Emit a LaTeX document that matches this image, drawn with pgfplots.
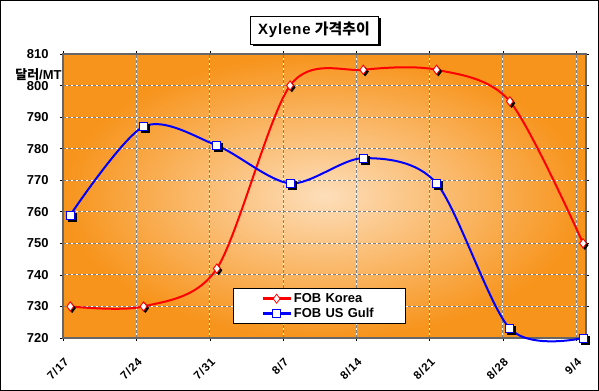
\documentclass[border=0pt]{standalone}
\usepackage{fontspec}
\setmainfont{Liberation Sans}
\newfontfamily\kr{Noto Sans CJK KR}
\newfontfamily\xlab{Liberation Sans}[LetterSpace=7]
\newfontfamily\ttl{Liberation Sans}[LetterSpace=6]
\usepackage{pgfplots}
\pgfplotsset{compat=1.18}
\usetikzlibrary{shadows}
\definecolor{orout}{RGB}{247,148,28}
\definecolor{orin}{RGB}{253,222,186}
\pgfplotstableread{
x korea gulf
0 730 759
1 730 787
2 742 781
3 800 769
4 805 777
5 805 769
6 795 723
7 750 720
}\data
\begin{document}
\begin{tikzpicture}
\path[use as bounding box] (0bp,0bp) rectangle (599bp,391bp);
\draw[black, line width=1bp, fill=white] (0.5bp,0.5bp) rectangle (598.5bp,390.5bp);
\begin{axis}[
  at={(63bp,53bp)}, anchor=south west,
  scale only axis, width=523bp, height=284bp,
  xmin=-0.1, xmax=7.04, ymin=720, ymax=810,
  ytick={720,730,...,810},
  xtick={-0.095,0.905,1.905,2.905,3.905,4.905,5.905,6.905},
  xticklabels={7/17,7/24,7/31,8/7,8/14,8/21,8/28,9/4},
  /pgf/number format/assume math mode=true,
  yticklabel style={font=\bfseries\fontsize{13}{15}\selectfont, xshift=-8bp},
  xticklabel style={font=\xlab\bfseries\fontsize{11.5}{13}\selectfont, rotate=45, anchor=east, yshift=-16bp, xshift=-8bp},
  tick style={black, line width=0.6bp},
  tick align=outside, major tick length=3bp,
  axis line style={draw=gray!80!black, line width=1.5bp},
  grid=major,
  major grid style={draw=gray, line width=0.8bp, dash pattern=on 3bp off 2bp, preaction={draw=white, solid, line width=0.8bp}},
  axis background/.style={shade, shading=radial, inner color=orin, outer color=orout},
  legend style={at={(0.325,0.176)}, anchor=north west, draw=black, line width=0.8bp, fill=white,
    font=\bfseries\fontsize{13}{15}\selectfont, inner xsep=28bp, inner ysep=3bp, row sep=0bp,
    text width=82bp},
  legend image code/.code={\draw[mark repeat=2, mark phase=2, #1]
     plot coordinates {(0bp,0bp) (14bp,0bp) (28bp,0bp)};},
  every legend image post/.append style={line width=2.5bp},
  legend cell align=left,
  clip=false,
]
\addplot[red, line width=2bp, smooth, tension=0.5, mark=diamond*, mark size=4.5bp,
  mark options={fill=white, draw=red, line width=0.8bp, solid}]
  table[x=x,y=korea]{\data};
\addlegendentry{FOB Korea}
\addplot[blue, line width=2bp, smooth, tension=0.5, mark=square*, mark size=4bp,
  mark options={fill=white, draw=blue, line width=0.8bp, solid}]
  table[x=x,y=gulf]{\data};
\addlegendentry{FOB US Gulf}
\addplot[forget plot, only marks, black, xshift=1.8bp, yshift=-1.8bp, mark=diamond*, mark size=4.5bp]
  table[x=x,y=korea]{\data};
\addplot[forget plot, only marks, black, xshift=1.8bp, yshift=-1.8bp, mark=square*, mark size=4bp]
  table[x=x,y=gulf]{\data};
\addplot[forget plot, only marks, mark=diamond*, mark size=4.5bp,
  mark options={fill=white, draw=red, line width=0.8bp, solid}]
  table[x=x,y=korea]{\data};
\addplot[forget plot, only marks, mark=square*, mark size=4bp,
  mark options={fill=white, draw=blue, line width=0.8bp, solid}]
  table[x=x,y=gulf]{\data};
\end{axis}
\node[font=\bfseries\fontsize{13}{15}\selectfont, anchor=east] at (65bp,316bp) {{\kr\bfseries 달러}/MT};
\node[draw=black, line width=0.8bp, fill=white, minimum width=128bp, minimum height=28bp,
  drop shadow={shadow xshift=2.5bp, shadow yshift=-2.5bp, opacity=1, fill=black},
  font=\bfseries\fontsize{15}{17}\selectfont] at (314bp,361bp) {{\ttl\bfseries Xylene} {\kr\bfseries 가격추이}};
\end{tikzpicture}
\end{document}
